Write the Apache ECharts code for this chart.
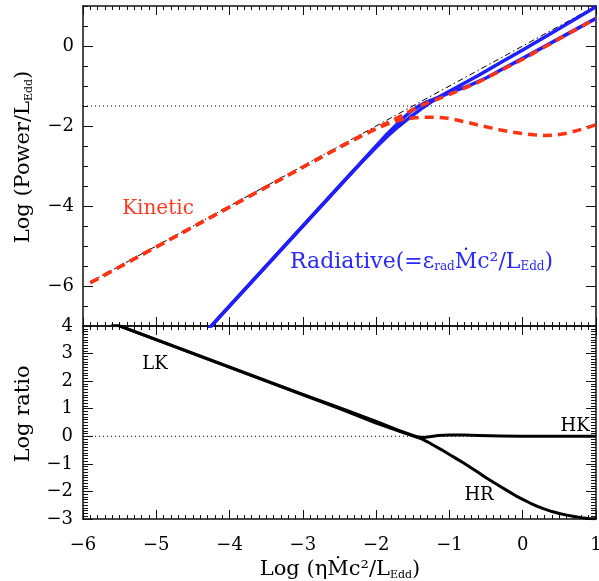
<!DOCTYPE html>
<html>
<head>
<meta charset="utf-8">
<script src="https://cdn.jsdelivr.net/npm/echarts@6/dist/echarts.min.js"></script>
<style>html,body{margin:0;padding:0;background:#fff}#c{width:599px;height:581px}</style>
</head>
<body>
<div id="c"></div>
<script>
// ---------- data ----------
const xTicks = [-6, -5, -4, -3, -2, -1, 0, 1];
const topYTicks = [-6, -4, -2, 0];
const botYTicks = [-3, -2, -1, 0, 1, 2, 3, 4];

// reference line y = x (black dash-dot)
const refX = [-5.9, 1.0];
const refY = [-5.9, 1.0];

// Kinetic, model A (lower red dashed)
const kinAX = [-5.9, -3.0, -2.5, -2.3, -2.1, -1.95, -1.8, -1.65, -1.5, -1.35, -1.2, -1.05, -0.9, -0.75, -0.6, -0.45, -0.3, -0.15, 0.0, 0.15, 0.3, 0.45, 0.6, 0.75, 0.9, 1.0];
const kinAY = [-5.92, -3.03, -2.53, -2.34, -2.16, -2.03, -1.92, -1.84, -1.8, -1.78, -1.78, -1.8, -1.85, -1.91, -1.98, -2.04, -2.1, -2.15, -2.19, -2.22, -2.24, -2.23, -2.18, -2.11, -2.03, -1.97];

// Kinetic, model B (upper red dashed)
const kinBX = [-5.9, -2.5, -2.2, -2.0, -1.8, -1.65, -1.5, -1.4, -1.3, -1.15, -1.0, -0.8, -0.6, -0.4, -0.2, 0.0, 0.5, 1.0];
const kinBY = [-5.92, -2.53, -2.24, -2.06, -1.88, -1.74, -1.59, -1.5, -1.42, -1.32, -1.21, -1.06, -0.9, -0.71, -0.52, -0.33, 0.18, 0.69];

// Radiative, model A (blue, upper at high rate)
const radAX = [-4.3, -2.4, -2.2, -2.0, -1.85, -1.7, -1.55, -1.4, -1.25, -1.1, -0.95, -0.8, -0.6, -0.3, 0.0, 0.5, 1.0];
const radAY = [-7.1, -3.3, -2.91, -2.53, -2.26, -2.02, -1.8, -1.59, -1.4, -1.23, -1.08, -0.93, -0.73, -0.41, -0.1, 0.44, 0.98];

// Radiative, model B (blue, lower at high rate)
const radBX = [-4.3, -2.3, -2.0, -1.85, -1.7, -1.6, -1.5, -1.4, -1.3, -1.2, -1.1, -1.0, -0.9, -0.77, -0.5, -0.3, 0.0, 0.5, 1.0];
const radBY = [-7.1, -3.1, -2.5, -2.2, -1.93, -1.75, -1.6, -1.48, -1.39, -1.32, -1.25, -1.17, -1.1, -1.02, -0.8, -0.6, -0.31, 0.19, 0.69];

// Log ratio, model A (LK then HR)
const ratioAX = [-5.9, -3.0, -2.5, -2.0, -1.7, -1.5, -1.4, -1.3, -1.2, -1.1, -1.0, -0.9, -0.8, -0.7, -0.6, -0.5, -0.4, -0.3, -0.2, -0.1, 0.0, 0.1, 0.2, 0.3, 0.4, 0.5, 0.6, 0.7, 0.8, 0.9, 1.0];
const ratioAY = [4.4, 1.5, 1.0, 0.48, 0.2, 0.02, -0.07, -0.2, -0.35, -0.5, -0.66, -0.82, -0.98, -1.15, -1.32, -1.5, -1.67, -1.83, -1.99, -2.15, -2.29, -2.42, -2.54, -2.64, -2.73, -2.8, -2.86, -2.91, -2.95, -2.98, -2.99];

// Log ratio, model B (LK then HK)
const ratioBX = [-5.9, -3.0, -2.5, -2.0, -1.7, -1.5, -1.42, -1.35, -1.25, -1.15, -1.0, -0.8, -0.6, -0.3, 0.0, 1.0];
const ratioBY = [4.4, 1.52, 1.04, 0.54, 0.22, 0.03, -0.03, -0.04, -0.01, 0.03, 0.05, 0.05, 0.03, 0.01, 0.0, 0.0];

// horizontal dotted reference levels
const topLevel = -1.5;
const botLevel = 0;

// ---------- chart ----------
const FONT = 'DejaVu Serif';
const zip = (xs, ys) => xs.map((x, i) => [x, ys[i]]);
const fmt = v => (v < 0 ? '\u2212' + Math.abs(v) : String(v));
const BLUE = '#1f1fff';
const RED = '#ff3414';
const AX = '#111';

function xAx(gridIndex, pos, labels) {
  return {
    type: 'value', gridIndex, position: pos, min: -6, max: 1, interval: 1,
    axisLine: { show: true, onZero: false, lineStyle: { color: AX, width: 1.5 } },
    axisTick: { show: true, inside: true, length: 9, lineStyle: { color: AX, width: 1 } },
    minorTick: { show: true, splitNumber: 10, length: 4, lineStyle: { color: AX, width: 1 } },
    axisLabel: { show: labels, margin: 17, color: '#000', fontFamily: FONT, fontSize: 18, formatter: fmt },
    splitLine: { show: false }, minorSplitLine: { show: false }
  };
}
function topYMajor(pos, labels) {
  return {
    type: 'value', gridIndex: 0, position: pos, offset: 0, min: -7, max: 1,
    axisLine: { show: true, onZero: false, lineStyle: { color: AX, width: 1.5 } },
    axisTick: { show: true, inside: true, length: 10, customValues: topYTicks, lineStyle: { color: AX, width: 1 } },
    axisLabel: { show: labels, customValues: topYTicks, margin: 9, color: '#000', fontFamily: FONT, fontSize: 18, formatter: fmt },
    splitLine: { show: false }
  };
}
function topYMinor(pos) {
  return {
    type: 'value', gridIndex: 0, position: pos, offset: 0, min: -7, max: 1, interval: 0.5,
    axisLine: { show: true, onZero: false, lineStyle: { color: 'rgba(0,0,0,0)' } },
    axisTick: { show: true, inside: true, length: 5, lineStyle: { color: AX, width: 1 } },
    axisLabel: { show: false },
    splitLine: { show: false }
  };
}
function botY(pos, labels) {
  return {
    type: 'value', gridIndex: 1, position: pos, offset: 0, min: -3, max: 4, interval: 1,
    axisLine: { show: true, onZero: false, lineStyle: { color: AX, width: 1.5 } },
    axisTick: { show: true, inside: true, length: 10, lineStyle: { color: AX, width: 1 } },
    minorTick: { show: true, splitNumber: 10, length: 5, lineStyle: { color: AX, width: 1 } },
    axisLabel: { show: labels, margin: 10, color: '#000', fontFamily: FONT, fontSize: 18, formatter: fmt },
    splitLine: { show: false }, minorSplitLine: { show: false }
  };
}

function line(xi, yi, data, color, width, type) {
  return {
    type: 'line', xAxisIndex: xi, yAxisIndex: yi, data, showSymbol: false, symbol: 'none',
    smooth: false, clip: true,
    lineStyle: { color, width, type, cap: 'butt', join: 'round' }
  };
}

const chart = echarts.init(document.getElementById('c'), null, { renderer: 'canvas' });
chart.setOption({
  animation: false,
  grid: [
    { left: 83, width: 513, top: 6, height: 320, containLabel: false, outerBoundsMode: 'none' },
    { left: 83, width: 513, top: 326, height: 193, containLabel: false, outerBoundsMode: 'none' }
  ],
  xAxis: [xAx(0, 'bottom', false), xAx(0, 'top', false), xAx(1, 'bottom', true), xAx(1, 'top', false)],
  yAxis: [topYMajor('left', true), topYMinor('left'), topYMajor('right', false), topYMinor('right'), botY('left', true), botY('right', false)],
  series: [
    line(0, 0, [[-6, topLevel], [1, topLevel]], '#000', 1, [1, 3]),
    line(0, 0, zip(refX, refY), '#000', 1, [6, 3, 1.5, 3]),
    line(0, 0, zip(radAX, radAY), BLUE, 3.5, 'solid'),
    line(0, 0, zip(radBX, radBY), BLUE, 3.5, 'solid'),
    line(0, 0, zip(kinAX, kinAY), RED, 3.5, [9, 6]),
    line(0, 0, zip(kinBX, kinBY), RED, 3.5, [9, 6]),
    line(2, 4, [[-6, botLevel], [1, botLevel]], '#000', 1, [1, 3]),
    line(2, 4, zip(ratioAX, ratioAY), '#000', 3, 'solid'),
    line(2, 4, zip(ratioBX, ratioBY), '#000', 3, 'solid')
  ],
  graphic: [
    { type: 'text', x: 158, y: 209, style: { text: 'Kinetic', fill: '#ff3a22', font: '20px "DejaVu Serif"', align: 'center', verticalAlign: 'middle' } },
    { type: 'text', x: 290, y: 262, style: {
        text: '{a|Radiative(=ε}{s|rad}{a|Ṁc²/L}{s|Edd}{a|)}', fill: '#2a2aff', align: 'left', verticalAlign: 'middle',
        rich: { a: { fontFamily: FONT, fontSize: 22, fill: '#2a2aff' }, s: { fontFamily: FONT, fontSize: 12, fill: '#2a2aff', padding: [10, 0, 0, 0] } } } },
    { type: 'text', x: 155, y: 364, style: { text: 'LK', fill: '#000', font: '18px "DejaVu Serif"', align: 'center', verticalAlign: 'middle' } },
    { type: 'text', x: 479, y: 495, style: { text: 'HR', fill: '#000', font: '18px "DejaVu Serif"', align: 'center', verticalAlign: 'middle' } },
    { type: 'text', x: 575, y: 426, style: { text: 'HK', fill: '#000', font: '18px "DejaVu Serif"', align: 'center', verticalAlign: 'middle' } },
    { type: 'text', x: 24, y: 157, rotation: Math.PI / 2, style: {
        text: '{a|Log (Power/L}{s|Edd}{a|)}', fill: '#000', align: 'center', verticalAlign: 'middle',
        rich: { a: { fontFamily: FONT, fontSize: 21 }, s: { fontFamily: FONT, fontSize: 11, padding: [10, 0, 0, 0] } } } },
    { type: 'text', x: 24, y: 414, rotation: Math.PI / 2, style: { text: 'Log ratio', fill: '#000', font: '21px "DejaVu Serif"', align: 'center', verticalAlign: 'middle' } },
    { type: 'text', x: 340, y: 570, style: {
        text: '{a|Log (ηṀc²/L}{s|Edd}{a|)}', fill: '#000', align: 'center', verticalAlign: 'middle',
        rich: { a: { fontFamily: FONT, fontSize: 21 }, s: { fontFamily: FONT, fontSize: 11, padding: [10, 0, 0, 0] } } } }
  ]
});
</script>
</body>
</html>
